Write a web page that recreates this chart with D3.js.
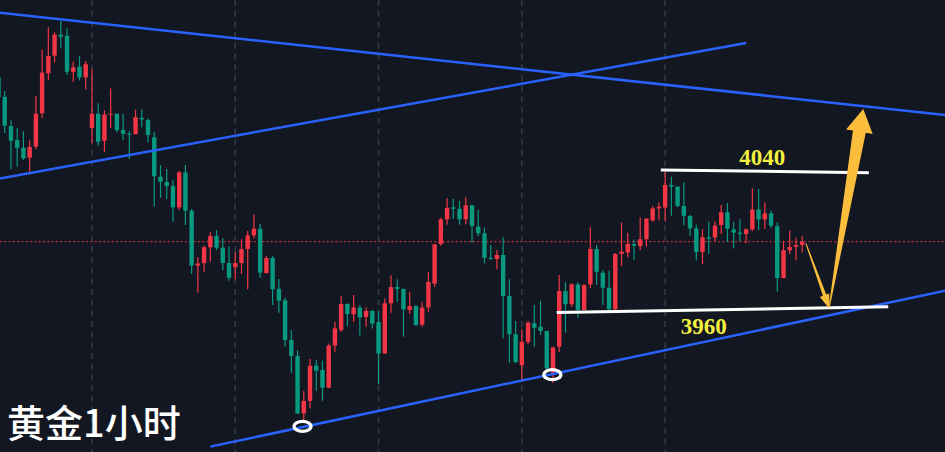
<!DOCTYPE html>
<html>
<head>
<meta charset="utf-8">
<script src="https://cdn.jsdelivr.net/npm/d3@7"></script>
<style>
  html, body { margin: 0; padding: 0; background: #131722; }
  svg { display: block; }
</style>
</head>
<body>
<svg id="chart" width="945" height="452"></svg>
<script>
// ---- Data (XAUUSD 1h candles) ----
const openP = [4093.7,4082.4,4065.7,4057.7,4053.3,4047.6,4053.9,4073.0,4095.8,4105.9,4117.9,4117.3,4096.7,4099.6,4093.5,4064.6,4072.7,4057.3,4072.2,4072.7,4063.4,4061.3,4061.0,4070.3,4069.1,4059.2,4036.7,4033.7,4031.4,4019.2,4039.2,4017.3,3985.9,3987.4,3996.4,4002.8,3996.2,3987.4,3985.0,3987.4,3995.4,4003.2,4007.0,3981.7,3990.4,3972.7,3966.1,3943.4,3934.4,3901.5,3908.6,3928.7,3926.3,3916.2,3940.2,3949.1,3964.0,3958.1,3961.9,3956.6,3960.0,3953.7,3935.7,3964.4,3973.7,3972.6,3960.6,3962.8,3952.2,3962.1,3975.6,3998.3,4012.4,4019.2,4018.4,4012.4,4020.4,4008.2,4004.4,3990.4,3989.7,3992.0,3968.6,3946.7,3929.1,3942.4,3953.0,3951.0,3948.6,3924.8,3939.6,3971.4,3963.9,3975.2,3960.6,3975.2,3995.4,3981.9,3973.3,3961.0,3992.6,3993.4,3998.3,3997.1,4001.0,4011.8,4018.6,4019.1,4032.0,4031.1,4020.0,4014.3,4007.2,3993.7,4002.1,4002.0,4009.1,4016.4,4006.6,4004.8,4004.0,4006.6,4018.0,4012.4,4015.8,4008.4,3978.8,3994.7,3996.7,3997.7];
const highP = [4095.4,4085.7,4069.0,4064.7,4062.7,4057.5,4082.8,4109.5,4122.1,4119.2,4125.7,4121.5,4102.4,4105.9,4102.8,4098.1,4078.7,4074.7,4087.2,4072.7,4072.7,4062.8,4075.0,4075.2,4070.1,4062.4,4043.4,4041.1,4034.8,4040.0,4043.4,4018.3,3990.7,3997.3,4005.3,4006.3,4001.7,3997.0,3993.7,4001.0,4005.7,4015.2,4009.7,3991.4,3991.4,3978.3,3967.6,3949.1,3937.7,3914.3,3932.6,3932.0,3931.6,3941.5,3953.9,3968.6,3964.4,3969.1,3963.4,3962.0,3960.6,3960.0,3967.2,3980.4,3978.1,3972.9,3970.8,3963.4,3965.3,3982.4,3998.1,4013.5,4024.4,4024.0,4023.0,4025.0,4020.6,4017.7,4007.8,3997.7,3994.8,4002.1,3978.1,3954.3,3949.5,3954.3,3963.4,3965.9,3948.6,3939.6,3980.6,3976.4,3975.8,3976.4,3975.4,4007.8,3997.7,3983.4,3983.0,3993.1,4010.6,4004.7,4000.8,4013.4,4013.1,4020.0,4022.0,4039.6,4036.7,4031.1,4033.5,4014.9,4009.4,4006.7,4011.1,4011.2,4020.6,4021.7,4010.8,4012.4,4007.2,4030.1,4029.7,4022.0,4017.5,4010.7,4000.1,4006.1,4001.9,4002.8];
const lowP = [4080.6,4061.7,4041.0,4042.4,4046.3,4039.6,4052.4,4070.4,4091.8,4102.1,4110.1,4094.8,4091.0,4091.8,4086.4,4055.8,4054.4,4051.0,4064.4,4062.1,4057.7,4046.8,4061.0,4065.0,4056.4,4019.6,4024.7,4023.8,4011.0,4017.7,4009.1,3981.1,3970.4,3982.3,3988.2,3994.8,3983.4,3977.3,3978.3,3981.1,3972.4,4001.5,3979.0,3981.5,3963.4,3959.0,3939.6,3924.7,3901.1,3896.7,3904.4,3914.4,3908.7,3915.8,3936.4,3948.0,3951.4,3953.7,3946.0,3951.0,3950.0,3918.1,3935.7,3959.0,3965.3,3945.3,3958.3,3951.4,3951.0,3959.6,3973.7,3997.3,4009.3,4012.7,4009.3,4009.5,3999.0,4002.8,3987.2,3989.1,3983.8,3944.4,3930.4,3930.1,3920.6,3941.0,3939.6,3946.3,3926.3,3918.8,3936.6,3947.6,3962.4,3956.2,3960.6,3973.0,3974.8,3963.4,3960.6,3960.6,3985.7,3990.7,3989.1,3994.8,3996.7,4011.0,4011.8,4011.1,4014.6,4019.4,4009.0,4002.8,3988.8,3986.7,3992.6,3999.7,4004.0,3999.4,3995.7,3999.8,3998.7,4005.7,4006.3,4006.9,4007.4,3971.2,3978.7,3992.4,3989.0,3993.5];
const closeP = [4082.3,4065.9,4057.3,4053.3,4047.2,4053.7,4072.7,4096.2,4105.7,4117.9,4116.7,4096.7,4099.2,4093.5,4101.0,4072.7,4056.7,4072.2,4072.7,4063.4,4061.3,4061.0,4070.7,4069.5,4060.6,4037.0,4033.9,4031.4,4019.2,4039.2,4017.3,3985.9,3987.2,3996.4,4002.8,3996.2,3987.4,3979.0,3987.4,3995.4,4003.2,4007.0,3981.9,3990.3,3972.4,3965.9,3943.4,3934.3,3901.5,3908.6,3928.7,3925.9,3916.2,3940.2,3950.1,3964.0,3958.3,3962.0,3956.4,3960.0,3952.8,3935.7,3964.4,3973.7,3972.6,3961.0,3962.8,3952.0,3961.9,3976.6,3998.1,4012.4,4019.0,4018.4,4012.4,4020.4,4008.6,4004.4,3990.4,3989.9,3992.0,3968.6,3946.7,3930.8,3942.4,3953.3,3950.4,3948.6,3927.2,3939.2,3971.4,3963.9,3975.2,3960.6,3974.8,3995.4,3982.4,3973.3,3961.0,3992.6,3993.9,3998.3,3997.4,4001.0,4012.8,4018.6,4019.6,4032.0,4031.1,4020.0,4014.4,4007.2,3993.7,4002.1,4001.3,4008.8,4016.4,4007.0,4004.8,4004.1,4006.7,4018.0,4012.3,4015.8,4008.7,3978.8,3994.7,3996.6,3997.7,3999.6];

// session (day) start candles -> vertical separators
const dayStarts = [15, 38, 61, 84, 107];

// trend lines: [candle index, price]
const blueLines = [
  [[0, 4130.5], [152, 4072.0]],
  [[0, 4035.6], [120, 4113.1]],
  [[34, 3882.5], [152, 3971.6]]
];
const levelLines = [
  [[106.3, 4040.6], [139.7, 4039.0]],
  [[89.6, 3959.2], [142.8, 3962.4]]
];
const levelLabels = ["4040", "3960"];
const labelPos = [[122.6, 4043.4], [113.2, 3947.1]];
const lowCircles = [[48.8, 3894.1], [88.9, 3923.6]];
const arrows = [
  { from: [129.6, 3998.6], to: [133.35, 3961.5], tail: 1, shaft: 3.5, head: 10, headLen: 14 },
  { from: [133.35, 3962.3], to: [138.8, 4075.4], tail: 1, shaft: 13, head: 27, headLen: 23 }
];
const title = "黄金1小时";

// ---- Scales ----
const W = 945, H = 452;
const x = d3.scaleLinear().domain([0, 129]).range([-1.5, 802.2]);
const y = d3.scaleLinear().domain([3960, 4040]).range([311, 171]);

const svg = d3.select("#chart");
svg.append("rect").attr("width", W).attr("height", H).attr("fill", "#131722");

// vertical dashed separators
svg.append("g").selectAll("line").data(dayStarts).join("line")
  .attr("x1", d => x(d)).attr("x2", d => x(d))
  .attr("y1", 0).attr("y2", H)
  .attr("stroke", "#363a45").attr("stroke-width", 1.5)
  .attr("stroke-dasharray", "6,4.7");

// last price dotted line
const last = closeP[closeP.length - 1];
svg.append("line")
  .attr("x1", 0).attr("x2", W)
  .attr("y1", y(last)).attr("y2", y(last))
  .attr("stroke", "#f23645").attr("stroke-width", 1)
  .attr("stroke-dasharray", "2,2.3");

// candles
const candles = openP.map((o, i) => ({ i, o, h: highP[i], l: lowP[i], c: closeP[i] }));
const up = "#f23645", down = "#089981";
const cg = svg.append("g");
cg.selectAll("line").data(candles).join("line")
  .attr("x1", d => x(d.i)).attr("x2", d => x(d.i))
  .attr("y1", d => y(d.h)).attr("y2", d => y(d.l))
  .attr("stroke", d => d.c >= d.o ? up : down)
  .attr("stroke-width", 1.2);
cg.selectAll("rect").data(candles).join("rect")
  .attr("x", d => x(d.i) - 2.2)
  .attr("width", 4.4)
  .attr("y", d => y(Math.max(d.o, d.c)))
  .attr("height", d => Math.max(1, Math.abs(y(d.o) - y(d.c))))
  .attr("fill", d => d.c >= d.o ? up : down);

// blue trend lines
svg.append("g").selectAll("line").data(blueLines).join("line")
  .attr("x1", d => x(d[0][0])).attr("y1", d => y(d[0][1]))
  .attr("x2", d => x(d[1][0])).attr("y2", d => y(d[1][1]))
  .attr("stroke", "#2962ff").attr("stroke-width", 2.5);

// white level lines
svg.append("g").selectAll("line").data(levelLines).join("line")
  .attr("x1", d => x(d[0][0])).attr("y1", d => y(d[0][1]))
  .attr("x2", d => x(d[1][0])).attr("y2", d => y(d[1][1]))
  .attr("stroke", "#ffffff").attr("stroke-width", 3);

// level labels
svg.append("g").selectAll("text").data(levelLabels).join("text")
  .attr("x", (d, k) => x(labelPos[k][0]))
  .attr("y", (d, k) => y(labelPos[k][1]))
  .attr("text-anchor", "middle")
  .attr("font-family", "'Liberation Serif', 'Times New Roman', serif")
  .attr("font-weight", "bold")
  .attr("font-size", 23)
  .attr("fill", "#f4f03e")
  .text(d => d);

// circles at lows
svg.append("g").selectAll("ellipse").data(lowCircles).join("ellipse")
  .attr("cx", d => x(d[0])).attr("cy", d => y(d[1]))
  .attr("rx", 8.5).attr("ry", 5)
  .attr("fill", "none").attr("stroke", "#ffffff").attr("stroke-width", 3.2);

// arrows
function arrowPath(a) {
  const sx = x(a.from[0]), sy = y(a.from[1]);
  const tx = x(a.to[0]), ty = y(a.to[1]);
  const dx = tx - sx, dy = ty - sy, len = Math.hypot(dx, dy);
  const ux = dx / len, uy = dy / len, nx = -uy, ny = ux;
  const bx = tx - ux * a.headLen, by = ty - uy * a.headLen;
  const p = [
    [sx + nx * a.tail / 2, sy + ny * a.tail / 2],
    [bx + nx * a.shaft / 2, by + ny * a.shaft / 2],
    [bx + nx * a.head / 2, by + ny * a.head / 2],
    [tx, ty],
    [bx - nx * a.head / 2, by - ny * a.head / 2],
    [bx - nx * a.shaft / 2, by - ny * a.shaft / 2],
    [sx - nx * a.tail / 2, sy - ny * a.tail / 2]
  ];
  return d3.line()(p) + "Z";
}
svg.append("g").selectAll("path").data(arrows).join("path")
  .attr("d", arrowPath)
  .attr("fill", "#fbbd3c");

// title
svg.append("text")
  .attr("x", 7).attr("y", 437)
  .attr("font-family", "'Noto Sans CJK SC', sans-serif")
  .attr("font-size", 38)
  .attr("font-weight", 500)
  .attr("fill", "#ffffff")
  .text(title);
</script>
</body>
</html>
